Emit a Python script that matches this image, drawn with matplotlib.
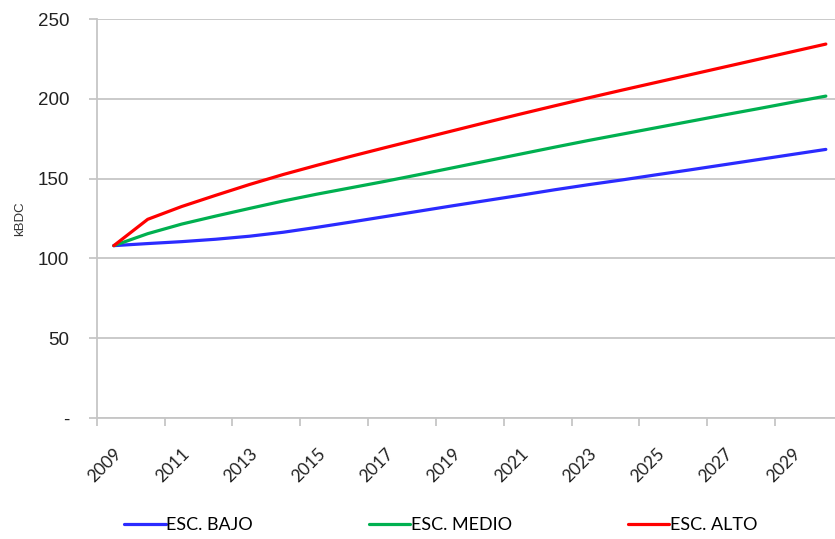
import matplotlib.pyplot as plt
import numpy as np

##############################################################################
## Data (kBDC per year, three scenarios)

years = list(range(2009, 2031))
bajo = [108, 109.3, 110.5, 112, 113.9, 116.4, 119.5, 122.8, 126.2, 129.6, 133,
        136.3, 139.6, 143, 146.2, 149.2, 152.4, 155.5, 158.7, 161.9, 165.1, 168.3]
medio = [108, 115.5, 121.5, 126.5, 131.3, 136, 140.3, 144.3, 148.3, 152.5, 156.8,
         161.1, 165.4, 169.7, 173.9, 177.9, 181.9, 185.9, 189.9, 193.8, 197.8, 201.7]
alto = [108, 124.5, 132.5, 139.5, 146.3, 152.6, 158.4, 164, 169.4, 174.7, 180,
        185.3, 190.5, 195.6, 200.6, 205.5, 210.3, 215.1, 219.9, 224.7, 229.5, 234.3]
names = ['ESC. BAJO', 'ESC. MEDIO', 'ESC. ALTO']
colors = ['#2b2bff', '#00b050', '#ff0000']
yticks = [0, 50, 100, 150, 200, 250]
ytick_labels = ['-', '50', '100', '150', '200', '250']

##############################################################################
## Plotting

fig = plt.figure(figsize=(8.35, 5.39), dpi=100)
ax = fig.add_axes([0.116, 0.2245, 0.884, 0.7402])

x = np.arange(len(years))
for vals, name, c in zip([bajo, medio, alto], names, colors):
    ax.plot(x, vals, color=c, lw=2.3, label=name, solid_capstyle='round')

grid_c = '#c6c6c6'
ax.set_ylim(0, 250)
ax.set_yticks(yticks)
ax.set_yticklabels(ytick_labels, fontsize=13.5, family='Liberation Sans', color='#222222')
ax.yaxis.grid(True, color=grid_c, lw=1.3)
ax.set_axisbelow(True)

# tick marks sit between categories, labels at category centres
ax.set_xlim(-0.5, 21.27)
ax.set_xticks(np.arange(-0.5, 21, 2))
ax.set_xticklabels([])
ax.set_xticks(x[::2], minor=True)
ax.set_xticklabels([str(y) for y in years[::2]], minor=True, rotation=45,
                   ha='right', va='top', rotation_mode='anchor',
                   fontsize=12.5, family='Lato', color='#222222')
ax.tick_params(axis='x', which='major', length=6, color=grid_c, width=1.3)
ax.tick_params(axis='x', which='minor', length=0, pad=20)
ax.tick_params(axis='y', length=6, color=grid_c, width=1.3, pad=14)

for s in ['top', 'right']:
    ax.spines[s].set_visible(False)
for s in ['left', 'bottom']:
    ax.spines[s].set_color(grid_c)
    ax.spines[s].set_linewidth(1.3)

fig.text(0.024, 0.595, 'kBDC', rotation=90, ha='center', va='center',
         fontsize=9.5, family='Liberation Sans', color='#333333')

fig.legend(loc='center', bbox_to_anchor=(0.528, 0.026), ncol=3, frameon=False,
           handlelength=2.3, handletextpad=0.05, columnspacing=6.4,
           prop={'family': 'Lato', 'size': 13})

fig.savefig('out.png', dpi=100)
